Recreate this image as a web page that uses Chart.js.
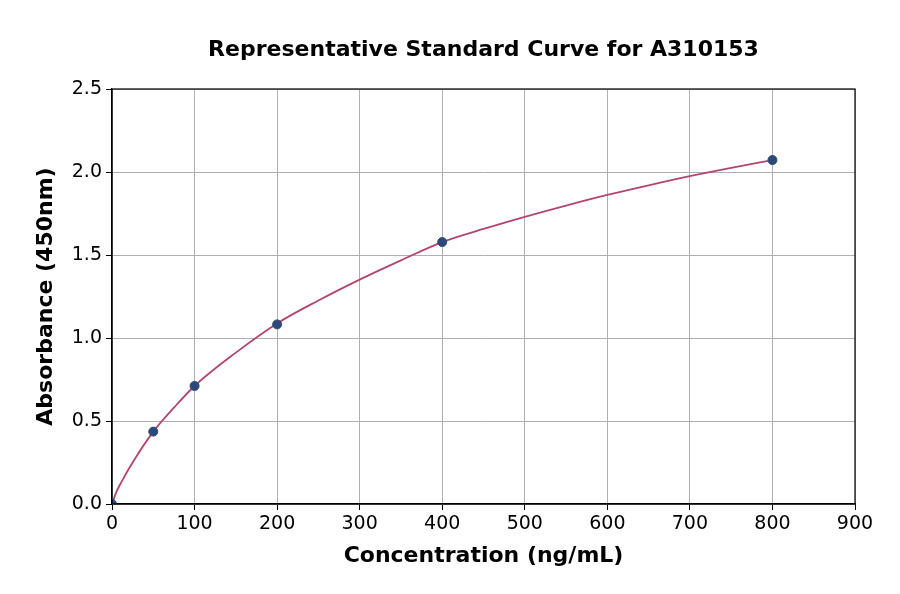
<!DOCTYPE html>
<html>
<head>
<meta charset="utf-8">
<script src="https://cdn.jsdelivr.net/npm/chart.js@4"></script>
<style>
html,body{margin:0;padding:0;background:#fff;}
#wrap{width:900px;height:594px;}
</style>
</head>
<body>
<div id="wrap"><canvas id="c" width="900" height="594"></canvas></div>
<script>
// Standard points (concentration ng/mL, absorbance)
const concentrations = [0, 50, 100, 200, 400, 800];
const absorbances = [0.0, 0.436, 0.711, 1.082, 1.578, 2.072];
// Fitted curve, values
const curveX = [0, 5, 10, 25, 50, 75, 100, 150, 200, 250, 300, 350, 400, 450, 500, 550, 600, 650, 700, 750, 800];
const curveY = [0.0, 0.069, 0.12, 0.25, 0.436, 0.58, 0.711, 0.912, 1.088, 1.226, 1.352, 1.468, 1.578, 1.657, 1.730, 1.798, 1.862, 1.920, 1.975, 2.025, 2.072];
const xTicks = [0, 100, 200, 300, 400, 500, 600, 700, 800, 900];
const yTicks = [0.0, 0.5, 1.0, 1.5, 2.0, 2.5];

const FONT = "'DejaVu Sans', sans-serif";

const frame = {
  id: 'frame',
  afterLayout(chart) {
    // centre the title over the plot area
    if (chart.titleBlock) {
      chart.titleBlock.left = chart.chartArea.left;
      chart.titleBlock.right = chart.chartArea.right;
      chart.titleBlock.width = chart.chartArea.right - chart.chartArea.left;
    }
  },
  afterDatasetsDraw(chart) {
    const a = chart.chartArea, ctx = chart.ctx;
    ctx.save();
    ctx.strokeStyle = '#000';
    ctx.lineWidth = 1.2;
    ctx.strokeRect(a.left, a.top, a.right - a.left, a.bottom - a.top);
    ctx.restore();
  }
};

new Chart(document.getElementById('c'), {
  type: 'scatter',
  data: {
    datasets: [
      {
        type: 'line',
        data: curveX.map((x, i) => ({x: x, y: curveY[i]})),
        borderColor: '#b5456d',
        borderWidth: 1.8,
        pointRadius: 0,
        fill: false,
        cubicInterpolationMode: 'monotone',
        order: 2
      },
      {
        data: concentrations.map((x, i) => ({x: x, y: absorbances[i]})),
        backgroundColor: '#2c4a78',
        borderColor: '#2c4a78',
        pointRadius: 4.5,
        order: 1
      }
    ]
  },
  options: {
    responsive: false,
    animation: false,
    devicePixelRatio: 1,
    layout: {padding: {left: 0, right: 45, top: 0, bottom: 0}},
    plugins: {
      legend: {display: false},
      tooltip: {enabled: false},
      title: {
        display: true,
        text: 'Representative Standard Curve for A310153',
        color: '#000',
        font: {family: FONT, size: 22, weight: 'bold'},
        padding: {top: 37, bottom: 25.6}
      }
    },
    scales: {
      x: {
        type: 'linear',
        min: 0, max: 900,
        afterBuildTicks: s => { s.ticks = xTicks.map(v => ({value: v})); },
        afterFit: s => { s.height = 90; },
        ticks: {color: '#000', font: {family: FONT, size: 19}, padding: 3, maxRotation: 0,
                callback: v => String(v)},
        grid: {color: '#b0b0b0', lineWidth: 1, tickLength: 6, tickColor: '#000', drawTicks: true},
        border: {display: true, color: '#000', width: 1.2},
        title: {display: true, text: 'Concentration (ng/mL)', color: '#000',
                font: {family: FONT, size: 22, weight: 'bold'}, padding: {bottom: 24.8}}
      },
      y: {
        type: 'linear',
        min: 0, max: 2.5,
        afterBuildTicks: s => { s.ticks = yTicks.map(v => ({value: v})); },
        afterFit: s => { s.width = 112; },
        ticks: {color: '#000', font: {family: FONT, size: 19}, padding: 4,
                callback: v => Number(v).toFixed(1)},
        grid: {color: '#b0b0b0', lineWidth: 1, tickLength: 6, tickColor: '#000', drawTicks: true},
        border: {display: true, color: '#000', width: 1.2},
        title: {display: true, text: 'Absorbance (450nm)', color: '#000',
                font: {family: FONT, size: 22, weight: 'bold'}, padding: {top: 33}}
      }
    }
  },
  plugins: [frame]
});
</script>
</body>
</html>
